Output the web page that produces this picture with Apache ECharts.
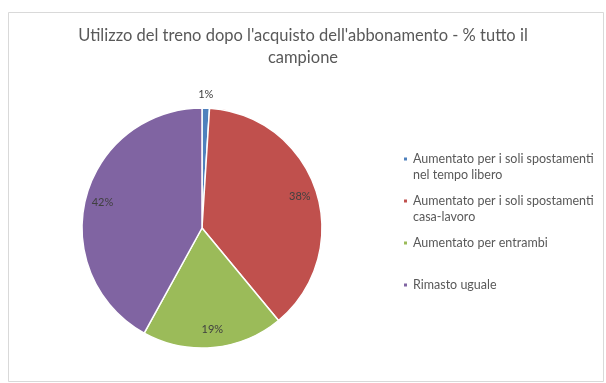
<!DOCTYPE html>
<html>
<head>
<meta charset="utf-8">
<script src="https://cdn.jsdelivr.net/npm/echarts@6/dist/echarts.min.js"></script>
<style>
html,body{margin:0;padding:0;background:#fff;}
#chart{width:606px;height:383px;}
</style>
</head>
<body>
<div id="chart"></div>
<script>
const titleText = "Utilizzo del treno dopo l'acquisto dell'abbonamento - % tutto il\ncampione";
const categories = [
  "Aumentato per i soli spostamenti\nnel tempo libero",
  "Aumentato per i soli spostamenti\ncasa-lavoro",
  "Aumentato per entrambi",
  "Rimasto uguale"
];
const values = [1, 38, 19, 42];
const colors = ["#4F81BD", "#C0504D", "#9BBB59", "#8064A2"];

const FONT = "Lato";
const chart = echarts.init(document.getElementById('chart'), null, {renderer: 'canvas'});

const data = categories.map((c, i) => {
  const item = {name: c, value: values[i], itemStyle: {color: colors[i]}};
  if (i === 0) {
    item.label = {distanceToLabelLine: -8};
    item.labelLine = {show: false, length: 14, length2: 0};
  }
  return item;
});

chart.setOption({
  backgroundColor: '#ffffff',
  animation: false,
  graphic: [{
    type: 'rect',
    shape: {x: 8.5, y: 12.5, width: 595, height: 369},
    style: {fill: 'none', stroke: '#d9d9d9', lineWidth: 1},
    silent: true,
    z: -10
  }],
  title: {
    text: titleText,
    left: 'center',
    top: 20,
    padding: [5, 0, 5, 10],
    textStyle: {
      fontFamily: FONT,
      fontSize: 16.5,
      fontWeight: 'normal',
      color: '#595959',
      lineHeight: 22
    }
  },
  legend: {
    orient: 'vertical',
    left: 397,
    top: 130,
    icon: 'rect',
    itemWidth: 5,
    itemHeight: 5,
    itemGap: -6,
    formatter: function (name) {
      return ' \n' + (name.indexOf('\n') >= 0 ? name : name + '\n ');
    },
    textStyle: {
      fontFamily: FONT,
      fontSize: 12.5,
      color: '#595959',
      lineHeight: 16
    },
    data: categories
  },
  series: [{
    type: 'pie',
    center: [202, 228],
    radius: 120,
    startAngle: 90,
    clockwise: true,
    avoidLabelOverlap: false,
    itemStyle: {borderColor: '#ffffff', borderWidth: 1.5},
    label: {
      show: true,
      position: 'outside',
      formatter: '{c}%',
      fontFamily: FONT,
      fontSize: 11,
      color: '#404040',
      distanceToLabelLine: -10
    },
    labelLine: {show: false, length: -18, length2: 0},
    data: data
  }]
});
</script>
</body>
</html>
